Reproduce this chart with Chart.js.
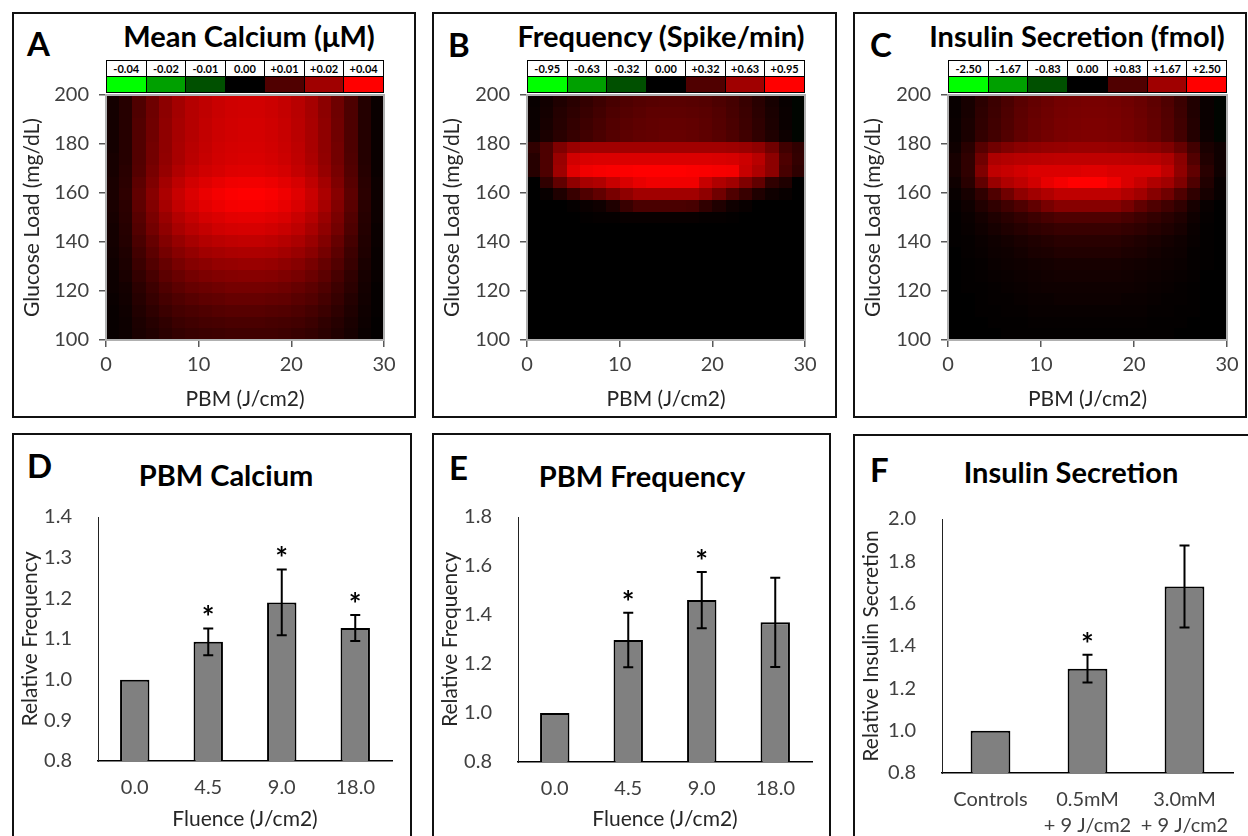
<!DOCTYPE html>
<html>
<head>
<meta charset="utf-8">
<title>PBM glucose panels</title>
<script src="https://cdn.jsdelivr.net/npm/chart.js@4.4.0/dist/chart.umd.min.js"></script>
<style>
  body { margin: 0; width: 1248px; height: 836px; overflow: hidden; background: #fff; position: relative; font-family: Lato, "Open Sans", sans-serif; }
  .panel { position: absolute; border: 2px solid #111; box-sizing: border-box; }
  canvas { position: absolute; }
  .letter { position: absolute; font-weight: bold; font-size: 33px; line-height: 1; color: #000; }
  .title { position: absolute; font-weight: bold; font-size: 29px; line-height: 1; color: #000; white-space: nowrap; transform: translateX(-50%); }
  table.scale { position: absolute; border-collapse: collapse; table-layout: fixed; }
  table.scale td { border: 1px solid #000; padding: 0; text-align: center; font: bold 11px Lato, sans-serif; height: 15px; }
</style>
</head>
<body>
<div class="panel" style="left:12px;top:12px;width:404px;height:406px"></div>
<div class="panel" style="left:432px;top:12px;width:405px;height:406px"></div>
<div class="panel" style="left:853px;top:12px;width:394px;height:406px"></div>
<div class="panel" style="left:12px;top:433px;width:400px;height:420px"></div>
<div class="panel" style="left:432px;top:433px;width:399px;height:420px"></div>
<div class="panel" style="left:853px;top:434px;width:400px;height:420px"></div>

<div class="letter" style="left:27px;top:27px">A</div>
<div class="letter" style="left:448px;top:28px">B</div>
<div class="letter" style="left:870px;top:28px">C</div>
<div class="letter" style="left:27px;top:449px">D</div>
<div class="letter" style="left:449px;top:451px">E</div>
<div class="letter" style="left:870px;top:453px">F</div>

<div class="title" style="left:249px;top:21px">Mean Calcium (μM)</div>
<div class="title" style="left:661px;top:21px">Frequency (Spike/min)</div>
<div class="title" style="left:1077px;top:21px">Insulin Secretion (fmol)</div>
<div class="title" style="left:226px;top:460px">PBM Calcium</div>
<div class="title" style="left:642px;top:461px">PBM Frequency</div>
<div class="title" style="left:1071px;top:457px">Insulin Secretion</div>

<table class="scale" id="scaleA" style="left:106px;top:60px;width:278px"></table>
<table class="scale" id="scaleB" style="left:527px;top:60px;width:278px"></table>
<table class="scale" id="scaleC" style="left:948px;top:60px;width:279px"></table>

<canvas id="heatA" width="404" height="405" style="left:12px;top:12px"></canvas>
<canvas id="heatB" width="404" height="405" style="left:432px;top:12px"></canvas>
<canvas id="heatC" width="395" height="405" style="left:853px;top:12px"></canvas>
<canvas id="barD" width="400" height="403" style="left:12px;top:433px"></canvas>
<canvas id="barE" width="399" height="403" style="left:432px;top:433px"></canvas>
<canvas id="barF" width="395" height="402" style="left:853px;top:434px"></canvas>

<script>
// ---- heatmap data: 21 x 21 cells, rows run from 200 down to 100 mg/dL,
// columns from 0 to 30 J/cm2. Values are percent of the colour-scale maximum.
const glucoseRange = [100, 200];
const pbmRange = [0, 30];

const calciumScale = ['-0.04', '-0.02', '-0.01', '0.00', '+0.01', '+0.02', '+0.04'];
const frequencyScale = ['-0.95', '-0.63', '-0.32', '0.00', '+0.32', '+0.63', '+0.95'];
const insulinScale = ['-2.50', '-1.67', '-0.83', '0.00', '+0.83', '+1.67', '+2.50'];

const calciumGrid = [
  [8,15,31,43,55,64,71,75,79,81,82,82,80,77,72,65,55,43,30,14,4],
  [8,15,31,43,55,64,71,75,79,81,82,82,80,77,72,65,55,43,30,14,4],
  [8,15,32,44,56,65,71,76,80,82,83,83,81,78,73,66,56,44,30,14,4],
  [8,15,32,44,56,65,71,76,80,82,83,83,81,78,73,66,56,44,30,14,4],
  [8,15,32,45,56,66,72,77,81,83,84,84,82,79,74,66,56,45,30,14,4],
  [9,15,32,45,57,66,73,78,82,84,85,85,83,80,75,67,57,45,31,14,4],
  [9,16,33,47,59,69,76,81,84,87,88,88,86,83,77,70,59,47,32,15,4],
  [10,17,36,50,64,74,82,87,91,94,95,95,93,89,84,75,64,50,34,16,5],
  [10,18,38,53,67,78,86,92,96,99,100,100,98,94,88,79,67,53,36,17,5],
  [10,17,37,51,65,76,83,89,93,96,97,97,95,91,85,77,65,51,35,16,5],
  [9,16,34,48,60,70,77,83,86,89,90,90,88,85,79,71,60,48,32,15,5],
  [8,15,32,45,56,66,72,77,81,83,84,84,82,79,74,66,56,45,30,14,4],
  [8,14,29,40,51,59,65,70,73,75,76,76,74,71,67,60,51,40,27,13,4],
  [7,12,26,36,46,53,58,63,65,67,68,68,67,64,60,54,46,36,24,12,3],
  [6,11,23,32,40,47,52,55,58,59,60,60,59,56,53,47,40,32,22,10,3],
  [5,10,20,28,36,41,46,49,51,52,53,53,52,50,47,42,36,28,19,9,3],
  [5,8,17,24,31,36,40,42,44,46,46,46,45,43,40,36,31,24,17,8,2],
  [4,7,15,21,27,31,34,37,38,40,40,40,39,38,35,32,27,21,14,7,2],
  [3,6,13,18,23,27,29,31,33,34,34,34,33,32,30,27,23,18,12,6,2],
  [3,5,11,15,19,23,25,27,28,29,29,29,28,27,26,23,19,15,10,5,1],
  [3,5,10,13,17,20,22,23,24,25,25,25,25,24,22,20,17,13,9,4,1]
];

const frequencyGrid = [
  [3,7,12,16,20,24,28,31,33,34,35,35,34,33,30,27,22,16,9,3,-2],
  [4,8,14,18,22,26,30,33,35,37,37,37,36,35,32,28,23,17,10,4,-2],
  [4,9,15,20,24,28,32,35,37,38,39,39,38,36,33,29,24,18,11,4,-2],
  [5,10,16,21,25,29,33,36,38,39,40,40,39,37,34,30,25,19,12,5,-2],
  [19,30,50,60,63,63,63,63,63,63,63,63,63,63,63,62,60,56,44,25,19],
  [15,30,60,82,85,86,86,86,86,86,86,86,86,86,85,84,80,72,55,30,20],
  [15,30,62,88,95,97,98,99,100,100,100,100,99,98,97,96,78,68,55,28,18],
  [0,19,38,56,66,69,78,85,91,94,94,94,94,78,69,63,50,38,19,12,0],
  [0,3,12,22,31,38,47,56,63,63,63,63,63,56,44,31,22,12,6,3,0],
  [0,0,0,2,4,6,12,22,29,29,29,29,28,19,12,6,3,0,0,0,0],
  [0,0,0,0,1,2,2,3,3,3,3,3,3,2,2,1,0,0,0,0,0],
  [0,0,0,0,0,0,0,0,0,0,0,0,0,0,0,0,0,0,0,0,0],
  [0,0,0,0,0,0,0,0,0,0,0,0,0,0,0,0,0,0,0,0,0],
  [0,0,0,0,0,0,0,0,0,0,0,0,0,0,0,0,0,0,0,0,0],
  [0,0,0,0,0,0,0,0,0,0,0,0,0,0,0,0,0,0,0,0,0],
  [0,0,0,0,0,0,0,0,0,0,0,0,0,0,0,0,0,0,0,0,0],
  [0,0,0,0,0,0,0,0,0,0,0,0,0,0,0,0,0,0,0,0,0],
  [0,0,0,0,0,0,0,0,0,0,0,0,0,0,0,0,0,0,0,0,0],
  [0,0,0,0,0,0,0,0,0,0,0,0,0,0,0,0,0,0,0,0,0],
  [0,0,0,0,0,0,0,0,0,0,0,0,0,0,0,0,0,0,0,0,0],
  [0,0,0,0,0,0,0,0,0,0,0,0,0,0,0,0,0,0,0,0,0]
];

const insulinGrid = [
  [3,9,17,23,29,35,39,42,45,46,47,47,46,44,41,37,31,23,13,4,-2],
  [3,9,18,24,30,36,40,43,46,47,48,48,47,45,42,38,32,24,13,4,-2],
  [4,10,19,25,31,37,41,44,47,48,49,49,48,46,43,39,33,25,14,4,-2],
  [4,10,20,26,32,38,42,45,48,49,50,50,49,47,44,40,34,26,14,5,-2],
  [6,16,34,44,50,54,56,58,59,60,60,60,59,58,56,54,50,40,26,10,6],
  [9,19,44,68,70,72,73,74,75,75,75,75,75,74,73,72,68,54,32,13,6],
  [9,19,50,75,78,82,86,86,86,86,88,88,85,85,85,85,75,56,38,16,6],
  [6,16,38,60,69,75,82,91,96,100,100,100,94,85,78,69,63,50,31,13,3],
  [3,9,19,31,44,56,63,69,75,75,75,75,75,69,63,53,44,31,19,9,3],
  [2,6,13,19,25,31,38,47,53,53,53,53,53,47,38,31,25,19,9,3,0],
  [1,4,8,12,16,20,24,28,31,31,31,31,31,28,24,20,16,12,6,2,0],
  [1,3,6,9,12,15,18,20,22,22,22,22,22,20,18,15,12,9,4,1,0],
  [1,2,4,6,8,10,12,14,16,16,16,16,16,14,12,10,8,6,3,1,0],
  [0,2,3,5,6,8,10,11,13,13,13,13,13,11,10,8,6,5,2,1,0],
  [0,1,2,4,5,6,7,8,9,9,9,9,9,8,7,6,5,4,2,1,0],
  [0,1,2,3,4,5,6,7,8,8,8,8,8,7,6,5,4,3,2,0,0],
  [0,1,1,2,3,4,5,6,6,6,6,6,6,6,5,4,3,2,1,0,0],
  [0,0,1,2,2,3,4,4,5,5,5,5,5,4,4,3,2,2,1,0,0],
  [0,0,1,1,2,2,3,3,3,3,3,3,3,3,3,2,2,1,1,0,0],
  [0,0,0,1,1,1,2,2,2,2,2,2,2,2,2,1,1,1,0,0,0],
  [0,0,0,0,1,1,1,1,1,1,1,1,1,1,1,1,1,0,0,0,0]
];

// ---- bar chart data
const fluence = ['0.0', '4.5', '9.0', '18.0'];
const calciumRel = [1.0, 1.093, 1.19, 1.127];
const calciumErr = [0, 0.033, 0.081, 0.032];
const calciumSig = [false, true, true, true];

const frequencyRel = [1.0, 1.298, 1.461, 1.37];
const frequencyErr = [0, 0.111, 0.115, 0.182];
const frequencySig = [false, true, true, false];

const insulinGroups = ['Controls', ['0.5mM', '+ 9 J/cm2'], ['3.0mM', '+ 9 J/cm2']];
const insulinRel = [1.0, 1.293, 1.681];
const insulinErr = [0, 0.066, 0.194];
const insulinSig = [false, true, false];

// colour key swatches (negative = green, positive = red)
const keyColors = ['#00ff00', '#00a000', '#005000', '#000000', '#500000', '#a00000', '#ff0000'];

const tickFont = { family: 'Lato', size: 20 };
const axisFont = { family: 'Lato', size: 21 };
const tickColor = '#404040';
const titleColor = '#262626';

function buildKey(id, labels) {
  const table = document.getElementById(id);
  let top = '<tr>', bottom = '<tr>';
  labels.forEach((t, i) => {
    top += '<td style="background:#fff">' + t + '</td>';
    bottom += '<td style="background:' + keyColors[i] + '"></td>';
  });
  table.innerHTML = top + '</tr>' + bottom + '</tr>';
}
buildKey('scaleA', calciumScale);
buildKey('scaleB', frequencyScale);
buildKey('scaleC', insulinScale);

function cellColor(v) {
  const c = Math.round(Math.min(Math.abs(v), 100) * 2.55);
  return v >= 0 ? 'rgb(' + c + ',0,0)' : 'rgb(0,' + c + ',0)';
}

// paints the grid cells onto the x/y scales, then the grey frame
function heatCells(grid) {
  return {
    id: 'heatCells',
    beforeDatasetsDraw(chart) {
      const { ctx, scales: { x, y } } = chart;
      const rows = grid.length, cols = grid[0].length;
      const xs = [], ys = [];
      for (let j = 0; j <= cols; j++) xs.push(Math.round(x.getPixelForValue(x.min + (x.max - x.min) * j / cols)));
      for (let i = 0; i <= rows; i++) ys.push(Math.round(y.getPixelForValue(y.max - (y.max - y.min) * i / rows)));
      ctx.save();
      for (let i = 0; i < rows; i++) {
        for (let j = 0; j < cols; j++) {
          ctx.fillStyle = cellColor(grid[i][j]);
          ctx.fillRect(xs[j], ys[i], xs[j + 1] - xs[j], ys[i + 1] - ys[i]);
        }
      }
      const a = chart.chartArea;
      ctx.strokeStyle = '#b0b0b0';
      ctx.lineWidth = 2;
      ctx.strokeRect(a.left, a.top, a.right - a.left, a.bottom - a.top);
      ctx.restore();
    }
  };
}

function heatmap(id, grid, box) {
  new Chart(document.getElementById(id), {
    type: 'scatter',
    data: { datasets: [{ data: [], pointRadius: 0 }] },
    plugins: [heatCells(grid)],
    options: {
      responsive: false,
      animation: false,
      layout: { padding: { top: box.top, right: box.right, left: 0, bottom: 0 } },
      plugins: { legend: { display: false }, tooltip: { enabled: false } },
      scales: {
        x: {
          type: 'linear', min: pbmRange[0], max: pbmRange[1],
          ticks: { stepSize: 10, font: tickFont, color: tickColor, padding: 6 },
          grid: { drawOnChartArea: false, tickLength: 7, color: '#595959', lineWidth: 1.5 },
          border: { display: false },
          title: { display: true, text: 'PBM (J/cm2)', font: axisFont, color: titleColor, padding: { bottom: 5 } },
          afterFit(s) { s.height = box.xh; }
        },
        y: {
          type: 'linear', min: glucoseRange[0], max: glucoseRange[1],
          ticks: { stepSize: 20, font: tickFont, color: tickColor, padding: 10 },
          grid: { drawOnChartArea: false, tickLength: 7, color: '#595959', lineWidth: 1.5 },
          border: { display: false },
          title: { display: true, text: 'Glucose Load (mg/dL)', font: axisFont, color: titleColor, padding: { top: 8 } },
          afterFit(s) { s.width = box.yw; }
        }
      }
    }
  });
}

heatmap('heatA', calciumGrid, { top: 83, right: 32, xh: 77, yw: 94 });
heatmap('heatB', frequencyGrid, { top: 83, right: 31, xh: 77, yw: 95 });
heatmap('heatC', insulinGrid, { top: 83, right: 21, xh: 77, yw: 95 });

// error bars and significance stars on top of the bars
function errorMarks(errs, sig) {
  return {
    id: 'errorMarks',
    afterDatasetsDraw(chart) {
      const { ctx, scales: { y } } = chart;
      const meta = chart.getDatasetMeta(0);
      const vals = chart.data.datasets[0].data;
      ctx.save();
      ctx.strokeStyle = '#000';
      ctx.fillStyle = '#000';
      ctx.lineWidth = 2;
      meta.data.forEach((bar, i) => {
        const top = y.getPixelForValue(vals[i] + errs[i]);
        if (errs[i] > 0) {
          const bot = y.getPixelForValue(vals[i] - errs[i]);
          ctx.beginPath();
          ctx.moveTo(bar.x, top); ctx.lineTo(bar.x, bot);
          ctx.moveTo(bar.x - 5, top); ctx.lineTo(bar.x + 5, top);
          ctx.moveTo(bar.x - 5, bot); ctx.lineTo(bar.x + 5, bot);
          ctx.stroke();
        }
        if (sig[i]) {
          ctx.font = 'bold 30px Lato';
          ctx.textAlign = 'center';
          ctx.textBaseline = 'alphabetic';
          ctx.fillText('*', bar.x, top);
        }
      });
      ctx.restore();
    }
  };
}

function barPanel(id, labels, vals, errs, sig, o) {
  new Chart(document.getElementById(id), {
    type: 'bar',
    data: {
      labels: labels,
      datasets: [{
        data: vals,
        backgroundColor: '#808080',
        borderColor: '#000',
        borderWidth: 2,
        categoryPercentage: 1,
        barPercentage: o.barPct
      }]
    },
    plugins: [errorMarks(errs, sig)],
    options: {
      responsive: false,
      animation: false,
      layout: { padding: { top: o.top, right: o.right, left: 0, bottom: 0 } },
      plugins: { legend: { display: false }, tooltip: { enabled: false } },
      scales: {
        x: {
          grid: { display: false },
          border: { color: '#000', width: 1.5 },
          ticks: { font: Object.assign({ lineHeight: 1.3 }, tickFont), color: tickColor, padding: o.xPad, maxRotation: 0, autoSkip: false },
          title: { display: !!o.xTitle, text: o.xTitle || '', font: axisFont, color: titleColor, padding: { bottom: 4 } },
          afterFit(s) { s.height = o.xh; }
        },
        y: {
          min: o.min, max: o.max,
          ticks: { stepSize: o.step, font: tickFont, color: tickColor, padding: 18, callback: v => v.toFixed(1) },
          grid: { display: false },
          border: { color: '#222', width: 1 },
          title: { display: true, text: o.yTitle, font: axisFont, color: titleColor, padding: { top: 6 } },
          afterFit(s) { s.width = o.yw; }
        }
      }
    }
  });
}

barPanel('barD', fluence, calciumRel, calciumErr, calciumSig,
  { top: 84, right: 20, xh: 75, yw: 86, min: 0.8, max: 1.4, step: 0.1, barPct: 0.4, xPad: 6, xTitle: 'Fluence (J/cm2)', yTitle: 'Relative Frequency' });
barPanel('barE', fluence, frequencyRel, frequencyErr, frequencySig,
  { top: 84, right: 19, xh: 74, yw: 86, min: 0.8, max: 1.8, step: 0.2, barPct: 0.4, xPad: 6, xTitle: 'Fluence (J/cm2)', yTitle: 'Relative Frequency' });
barPanel('barF', insulinGroups, insulinRel, insulinErr, insulinSig,
  { top: 85, right: 15, xh: 63, yw: 89, min: 0.8, max: 2.0, step: 0.2, barPct: 0.41, xPad: 6, xTitle: '', yTitle: 'Relative Insulin Secretion' });
</script>
</body>
</html>
